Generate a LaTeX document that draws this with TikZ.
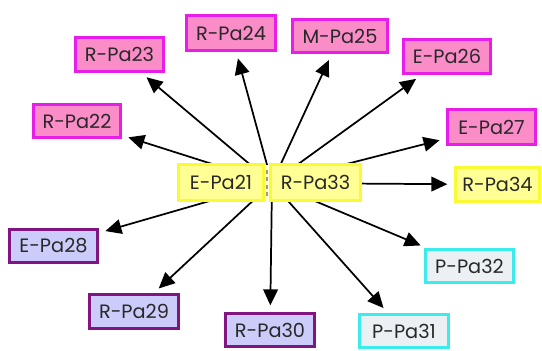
\documentclass[tikz,border=0pt]{standalone}
\usepackage{fontspec}
\setmainfont{Poppins}
\usetikzlibrary{arrows.meta}

\definecolor{pinkfill}{RGB}{250,140,200}
\definecolor{pinkline}{RGB}{232,30,232}
\definecolor{lavfill}{RGB}{204,204,250}
\definecolor{purpline}{RGB}{128,20,128}
\definecolor{cyanfill}{RGB}{234,240,244}
\definecolor{cyanline}{RGB}{60,235,235}
\definecolor{yelfill}{RGB}{255,255,150}
\definecolor{yelline}{RGB}{250,250,50}
\definecolor{txt}{RGB}{40,40,40}

\tikzset{
  box/.style={draw, line width=2.2pt, inner sep=0pt, text=txt,
    font=\fontsize{14.5}{15}\selectfont},
  pinkbox/.style={box, fill=pinkfill, draw=pinkline},
  lavbox/.style={box, fill=lavfill, draw=purpline},
  cyanbox/.style={box, fill=cyanfill, draw=cyanline},
  yelbox/.style={box, fill=yelfill, draw=yelline},
  sz/.style 2 args={minimum width={(#1-3)*0.75pt}, minimum height={(#2-3)*0.75pt}},
  link/.style={line width=1.3pt, black,
    -{Triangle[length=12pt, width=11pt]}, shorten >=5pt}
}

\begin{document}
\begin{tikzpicture}[x=0.75pt, y=-0.75pt]
  \useasboundingbox (0,0) rectangle (542,350);

  % outer ring of boxes
  \node[pinkbox, sz={91}{37}] (p23) at (119.5,54.5) {R-Pa23};
  \node[pinkbox, sz={92}{38}] (p24) at (231,33)     {R-Pa24};
  \node[pinkbox, sz={90}{36}] (p22) at (77,121)     {R-Pa22};
  \node[pinkbox, sz={98}{36}] (p25) at (340,36)     {M-Pa25};
  \node[pinkbox, sz={90}{37}] (p26) at (447,56.5)   {E-Pa26};
  \node[pinkbox, sz={91}{38}] (p27) at (491.5,127)  {E-Pa27};
  \node[yelbox,  sz={87}{37}] (p34) at (497.5,184.5){R-Pa34};
  \node[lavbox,  sz={91}{36}] (p28) at (53.5,246)   {E-Pa28};
  \node[lavbox,  sz={92}{37}] (p29) at (134,311.5)  {R-Pa29};
  \node[lavbox,  sz={92}{36}] (p30) at (270,330)    {R-Pa30};
  \node[cyanbox, sz={92}{36}] (p31) at (404,331)    {P-Pa31};
  \node[cyanbox, sz={91}{36}] (p32) at (469.5,266)  {P-Pa32};

  % hub and spokes
  \coordinate (hub) at (272,183);
  \foreach \t in {p22,p23,p24,p25,p26,p27,p34,p32,p31,p30,p29,p28}
    \draw[link] (hub) -- (\t);

  % central pair drawn over the spoke roots
  \node[yelbox, sz={88}{39}] (p21) at (221,182.5)   {E-Pa21};
  \node[yelbox, sz={93}{39}] (p33) at (315.5,182.5) {R-Pa33};
  \fill[yelfill!40] (265,165) rectangle (269,200);
  \draw[gray!80, line width=0.8pt, dash pattern=on 3pt off 2.5pt]
    (267,170) -- (267,198);
\end{tikzpicture}
\end{document}
